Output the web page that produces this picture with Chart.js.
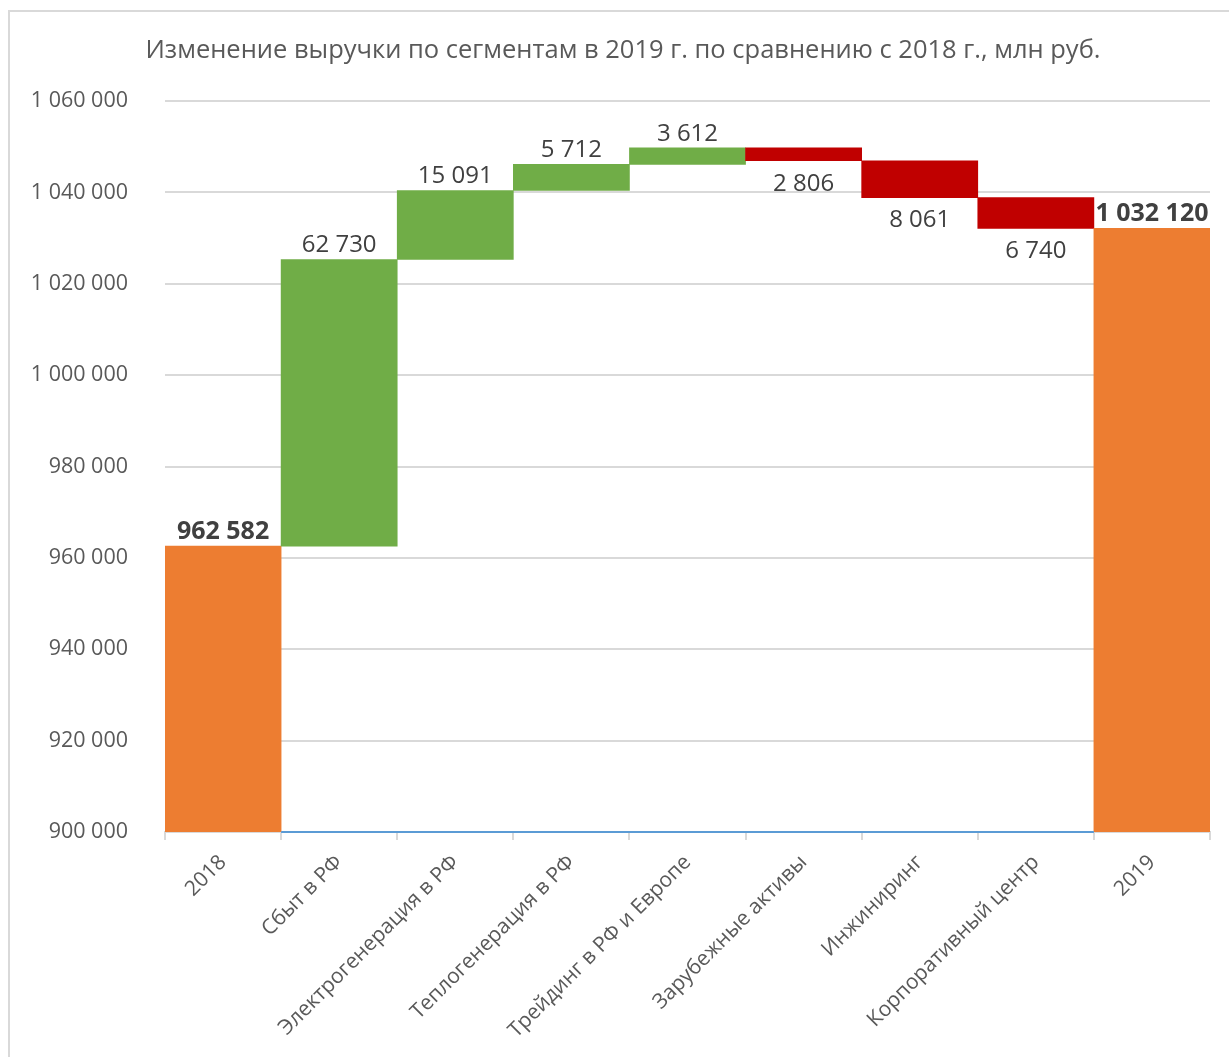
<!DOCTYPE html>
<html>
<head>
<meta charset="utf-8">
<script src="https://cdn.jsdelivr.net/npm/chart.js@4"></script>
<style>
  body { margin: 0; background: #fff; overflow: hidden; }
  #frame { position: absolute; left: 8px; top: 10px; width: 1300px; height: 1100px; border: 2px solid #d9d9d9; box-sizing: border-box; }
  #wrap { position: absolute; left: 0; top: 0; width: 1229px; height: 1057px; }
</style>
</head>
<body>
<div id="frame"></div>
<div id="wrap"><canvas id="myChart" width="1229" height="1057"></canvas></div>
<script>
// categories and values (mln rub)
var categories = ['2018', 'Сбыт в РФ', 'Электрогенерация в РФ', 'Теплогенерация в РФ', 'Трейдинг в РФ и Европе', 'Зарубежные активы', 'Инжиниринг', 'Корпоративный центр', '2019'];
var startValue = 962582;
var changes = [62730, 15091, 5712, 3612, -2806, -8061, -6740];
var endValue = 1032120;
var axisMin = 900000;
var axisMax = 1060000;

var titleText = 'Изменение выручки по сегментам в 2019 г. по сравнению с 2018 г., млн руб.';

// build floating bars
var bars = [[axisMin, startValue]];
var colors = ['#ed7d31'];
var running = startValue;
changes.forEach(function (c) {
    var next = running + c;
    bars.push([Math.min(running, next), Math.max(running, next)]);
    colors.push(c >= 0 ? '#70ad47' : '#c00000');
    running = next;
});
bars.push([axisMin, endValue]);
colors.push('#ed7d31');

var labelsText = [startValue].concat(changes.map(Math.abs)).concat([endValue]);

function fmt(n) {
    return String(n).replace(/\B(?=(\d{3})+(?!\d))/g, ' ');
}

var barLabels = {
    id: 'barLabels',
    afterDatasetsDraw: function (chart) {
        var ctx = chart.ctx;
        var meta = chart.getDatasetMeta(0);
        var last = meta.data.length - 1;
        ctx.save();

        // blue baseline between the two total bars
        var yBase = chart.scales.y.getPixelForValue(axisMin);
        ctx.strokeStyle = '#5b9bd5';
        ctx.lineWidth = 2;
        ctx.beginPath();
        ctx.moveTo(meta.data[0].x + meta.data[0].width / 2, yBase);
        ctx.lineTo(meta.data[last].x - meta.data[last].width / 2, yBase);
        ctx.stroke();

        ctx.fillStyle = '#404040';
        ctx.textAlign = 'center';
        meta.data.forEach(function (bar, i) {
            var total = (i === 0 || i === last);
            ctx.font = (total ? 'bold 25px' : '24px') + ' "Open Sans"';
            var neg = !total && changes[i - 1] < 0;
            var y1 = Math.min(bar.y, bar.base);
            var y2 = Math.max(bar.y, bar.base);
            if (neg) {
                ctx.textBaseline = 'top';
                ctx.fillText(fmt(labelsText[i]), bar.x, y2 + 11);
            } else {
                ctx.textBaseline = 'bottom';
                ctx.fillText(fmt(labelsText[i]), bar.x, y1 - 2);
            }
        });
        // chart title
        ctx.font = '25.5px "Open Sans"';
        ctx.fillStyle = '#595959';
        ctx.textBaseline = 'middle';
        ctx.fillText(titleText, 623, 51);
        ctx.restore();
    }
};

var ctx = document.getElementById('myChart').getContext('2d');
var myChart = new Chart(ctx, {
    type: 'bar',
    data: {
        labels: categories,
        datasets: [{
            data: bars,
            backgroundColor: colors,
            borderWidth: 0,
            barPercentage: 1,
            categoryPercentage: 1
        }]
    },
    options: {
        responsive: false,
        animation: false,
        layout: { padding: { top: 101, right: 19, left: 0, bottom: 0 } },
        plugins: {
            legend: { display: false },
            tooltip: { enabled: false },
            title: { display: false }
        },
        scales: {
            y: {
                min: axisMin,
                max: axisMax,
                ticks: {
                    stepSize: 20000,
                    color: '#595959',
                    font: { family: 'Open Sans', size: 21.5 },
                    padding: 37,
                    callback: function (v) { return fmt(v); }
                },
                grid: { color: '#d9d9d9', lineWidth: 2, drawTicks: false },
                border: { display: false },
                afterFit: function (scale) { scale.width = 165; }
            },
            x: {
                ticks: {
                    color: '#595959',
                    font: { family: 'Open Sans', size: 21 },
                    maxRotation: 45,
                    minRotation: 45,
                    autoSkip: false,
                    padding: 10
                },
                grid: { display: true, drawOnChartArea: false, drawTicks: true, tickLength: 8, color: '#d9d9d9', lineWidth: 2 },
                border: { display: true, color: '#d9d9d9', width: 2 },
                afterFit: function (scale) { scale.height = 225; }
            }
        }
    },
    plugins: [barLabels]
});
</script>
</body>
</html>
